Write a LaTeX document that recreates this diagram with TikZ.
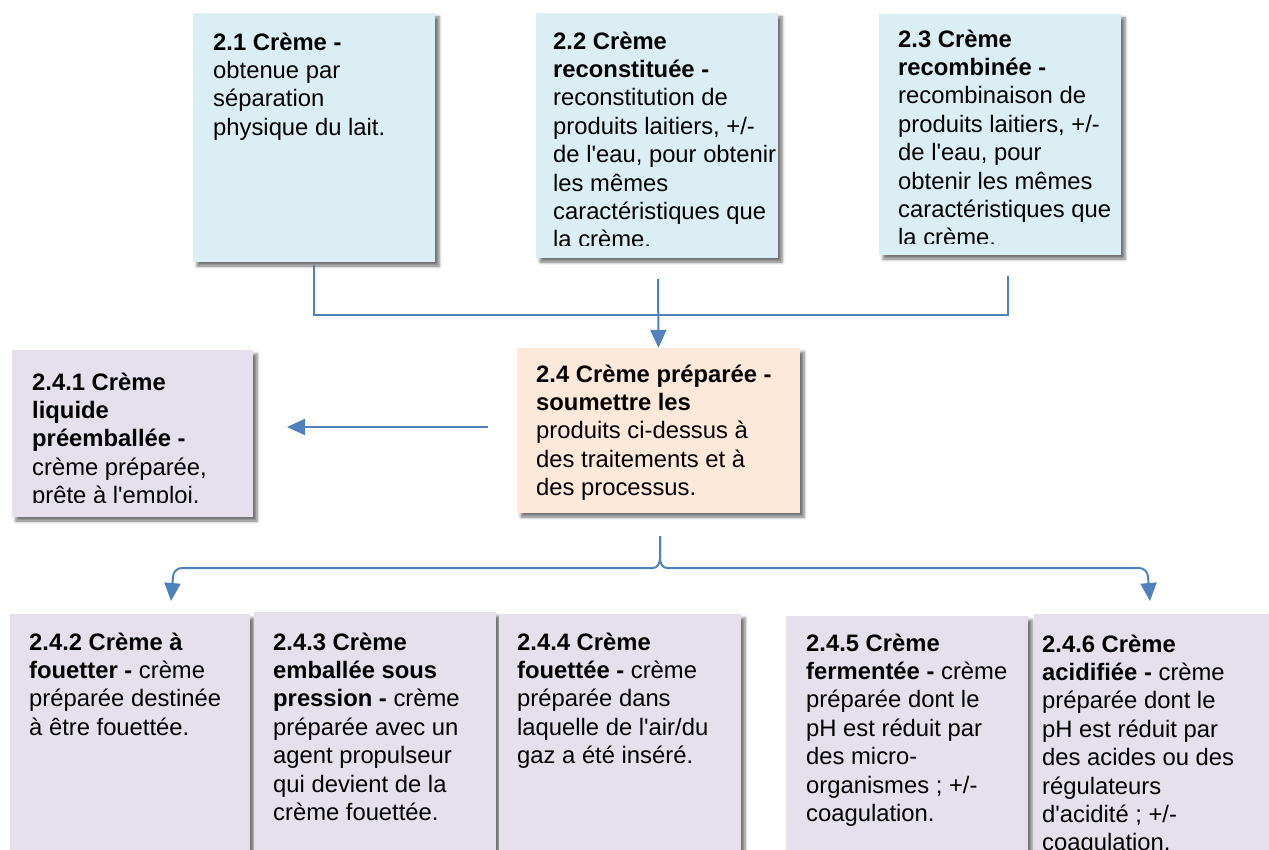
\documentclass[tikz,border=0pt]{standalone}
\usepackage{fontspec}
\setmainfont{Liberation Sans}
\usetikzlibrary{arrows.meta,shadows.blur,fit,calc}
\definecolor{cblue}{HTML}{DBEEF4}
\definecolor{corange}{HTML}{FDE9D9}
\definecolor{cpurple}{HTML}{E5E0EC}
\definecolor{cline}{HTML}{4F81BD}
\newcommand\aq{\textquotesingle}
\tikzset{
  boxbg/.style={inner sep=0pt, draw=none, blur shadow={shadow xshift=4pt, shadow yshift=-4pt, shadow blur radius=3pt, shadow opacity=55}},
  boxtext/.style={anchor=north west, inner sep=0pt, align=left, font=\fontsize{23.8}{28.4}\selectfont, text=black},
  conn/.style={draw=cline, line width=2pt},
  arr/.style={-{Triangle[width=16pt,length=18pt]}},
}
\def\clipoff{11}
% name, x1, y1, x2, y2, fill, baseline, inset, text
\newcommand\cbox[9]{%
  \node[boxbg, fill=#6, fit={(#2,#3)(#4,#5)}] (#1) {};
  \begin{scope}
    \clip (#2,#3) rectangle (#4,{#5-\clipoff});
    \node[boxtext] (#1t) at ({#2+#8},{#7-20}) {\strut #9};
  \end{scope}
}
\begin{document}
\begin{tikzpicture}[x=1pt,y=-1pt]
\useasboundingbox (0,0) rectangle (1269,850);

\cbox{n21}{193}{13}{435}{262}{cblue}{50}{20}{\textbf{2.1 Crème -}\\obtenue par\\séparation\\physique du lait.}
\def\clipoff{12}
\cbox{n22}{536}{13}{778}{258}{cblue}{49}{17}{\textbf{2.2 Crème}\\\textbf{reconstituée -}\\reconstitution de\\produits laitiers, +/-\\de l\aq eau, pour obtenir\\les mêmes\\caractéristiques que\\la crème.}
\def\clipoff{11}
\cbox{n23}{879}{14}{1121}{255}{cblue}{47}{19}{\textbf{2.3 Crème}\\\textbf{recombinée -}\\recombinaison de\\produits laitiers, +/-\\de l\aq eau, pour\\obtenir les mêmes\\caractéristiques que\\la crème.}

\cbox{n24}{517}{348}{800}{513}{corange}{382}{19}{\textbf{2.4 Crème préparée -}\\\textbf{soumettre les}\\produits ci-dessus à\\des traitements et à\\des processus.}
\def\clipoff{15}
\cbox{n241}{12}{350}{253}{517}{cpurple}{390}{20}{\textbf{2.4.1 Crème}\\\textbf{liquide}\\\textbf{préemballée -}\\crème préparée,\\prête à l\aq emploi.}
\def\clipoff{11}

\cbox{n242}{10}{614}{250}{880}{cpurple}{650}{19}{\textbf{2.4.2 Crème à}\\\textbf{fouetter -} crème\\préparée destinée\\à être fouettée.}
\cbox{n243}{254}{612}{496}{880}{cpurple}{650}{19}{\textbf{2.4.3 Crème}\\\textbf{emballée sous}\\\textbf{pression -} crème\\préparée avec un\\agent propulseur\\qui devient de la\\crème fouettée.}
\cbox{n244}{499}{614}{741}{880}{cpurple}{650}{18}{\textbf{2.4.4 Crème}\\\textbf{fouettée -} crème\\préparée dans\\laquelle de l\aq air/du\\gaz a été inséré.}
\cbox{n245}{786}{616}{1028}{880}{cpurple}{651}{20}{\textbf{2.4.5 Crème}\\\textbf{fermentée -} crème\\préparée dont le\\pH est réduit par\\des micro-\\organismes ; +/-\\coagulation.}
\cbox{n246}{1034}{614}{1290}{880}{cpurple}{652}{8}{\textbf{2.4.6 Crème}\\\textbf{acidifiée -} crème\\préparée dont le\\pH est réduit par\\des acides ou des\\régulateurs\\d\aq acidité ; +/-\\coagulation.}

% top connectors
\coordinate (a1) at ($(n21.south)+(0,3)$);
\coordinate (a2) at (658,279);
\coordinate (a3) at (1008,276);
\coordinate (j) at (658,315);
\draw[conn] (a1) |- (j) -| (a3);
\draw[conn,arr] (a2) -- (n24.north);

% left arrow
\coordinate (b1) at (488,427);
\coordinate (b2) at (287,427);
\draw[conn,arr] (b1) -- (b2);

% bottom brace connector
\coordinate (c0) at (660,536);
\coordinate (cL) at (171,601);
\coordinate (cR) at (1150,601);
\draw[conn,arr] (c0) -- (660,558) to[out=-90,in=0] (653,568) -- (182,568) to[out=180,in=90] (173,577) -- (cL);
\draw[conn,arr] (c0) -- (660,558) to[out=-90,in=180] (667,568) -- (1139,568) to[out=0,in=90] (1148,577) -- (cR);
\end{tikzpicture}
\end{document}
